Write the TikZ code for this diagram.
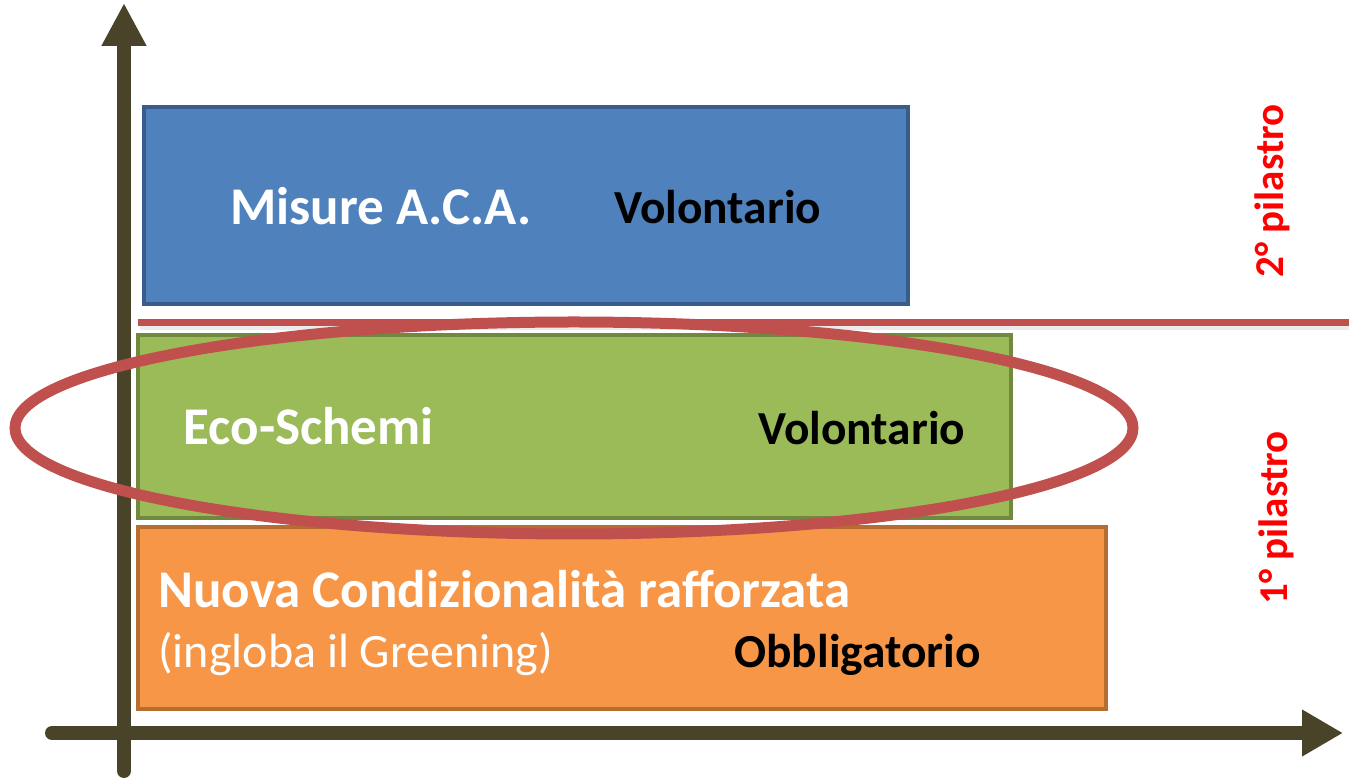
\documentclass[tikz,border=0pt]{standalone}
\usepackage{fontspec}
\setmainfont{Carlito}
\usetikzlibrary{arrows.meta}
\definecolor{asse}{RGB}{73,68,41}
\definecolor{blu}{RGB}{79,129,189}
\definecolor{blu-bordo}{RGB}{56,93,138}
\definecolor{verde}{RGB}{155,187,89}
\definecolor{verde-bordo}{RGB}{113,137,63}
\definecolor{arancio}{RGB}{247,150,70}
\definecolor{arancio-bordo}{RGB}{182,109,49}
\definecolor{rosso}{RGB}{192,80,77}
\tikzset{
  titolo/.style={white, font=\fontsize{26.5}{30}\selectfont\bfseries, inner sep=0pt, anchor=base west},
  tipo/.style={black, font=\fontsize{23.7}{28}\selectfont\bfseries, inner sep=0pt, anchor=base west},
  pilastro/.style={red, font=\fontsize{20.5}{24}\selectfont\bfseries, inner sep=0pt, rotate=90}
}

\begin{document}
\begin{tikzpicture}[x=0.5pt, y=-0.5pt]
    \useasboundingbox (0,0) rectangle (1349,779);

    % assi
    \draw[asse, line width=7pt, line cap=round, -{Triangle[length=21.5pt, width=21pt]}] (124,771) -- (124,3);
    \draw[asse, line width=7pt, line cap=round, -{Triangle[length=20.5pt, width=22pt]}] (52,733) -- (1343,733);

    % fasce
    \draw[line width=2pt, fill=blu, draw=blu-bordo] (144,107) rectangle (908,304);
    \draw[line width=2pt, fill=verde, draw=verde-bordo] (138,335) rectangle (1011,518);
    \draw[line width=2pt, fill=arancio, draw=arancio-bordo] (138,527) rectangle (1106,709);

    \node[titolo] (aca) at (230,225) {Misure A.C.A.};
    \node[tipo] (aca-tipo) at (614,224) {Volontario};
    \node[titolo] (eco) at (183,445) {Eco-Schemi};
    \node[tipo] (eco-tipo) at (758,445) {Volontario};
    \node[titolo] (cond) at (158,608) {Nuova Condizionalità rafforzata};
    \node[titolo, font=\fontsize{24}{28}\selectfont] (greening) at (158,668) {(ingloba il Greening)};
    \node[tipo] (cond-tipo) at (734,668) {Obbligatorio};

    % separazione pilastri
    \draw[black!8, line width=2pt] (140,328) -- (1349,328);
    \draw[rosso, line width=3.5pt] (138,323) -- (1349,323);
    \draw[rosso, line width=5.5pt] (574,428) ellipse [x radius=559, y radius=106];

    \node[pilastro] (secondo) at (1272,191) {2° pilastro};
    \node[pilastro] (primo) at (1276,518) {1° pilastro};

\end{tikzpicture}
\end{document}
